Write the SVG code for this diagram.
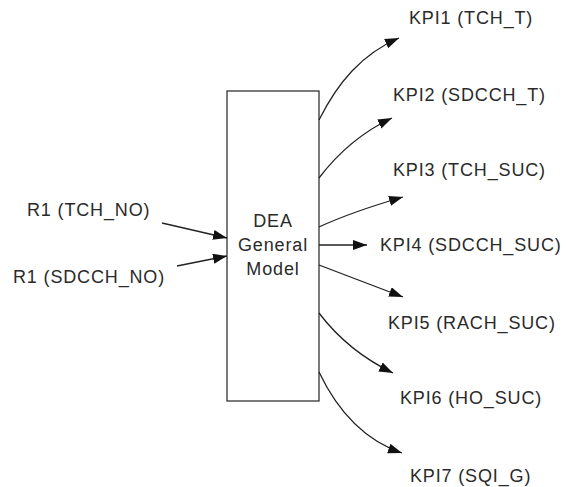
<svg xmlns="http://www.w3.org/2000/svg" width="566" height="487" viewBox="0 0 566 487">
<style>
text{font-family:"Liberation Sans",Arial,sans-serif;font-size:18px;fill:#2a2a2a;letter-spacing:0.85px}
.c{stroke:#222;stroke-width:1.3;fill:none;marker-end:url(#ah)}
.box{fill:#fff;stroke:#333;stroke-width:1.3}
</style>
<defs>
<marker id="ah" markerUnits="userSpaceOnUse" markerWidth="16" markerHeight="11" refX="14" refY="5" orient="auto">
<path d="M0,0 L14,5 L0,10 z" fill="#111"/>
</marker>
</defs>
<rect width="566" height="487" fill="#fff"/>
<g id="model">
<rect class="box" x="227" y="91" width="92" height="310"/>
<text x="273" y="227" text-anchor="middle">DEA</text>
<text x="273" y="251" text-anchor="middle">General</text>
<text x="273" y="275" text-anchor="middle">Model</text>
</g>
<g id="in1"><text x="27" y="216">R1 (TCH_NO)</text></g>
<g id="in2"><text x="13" y="283">R1 (SDCCH_NO)</text></g>
<g id="kpi1"><text x="409" y="24">KPI1 (TCH_T)</text></g>
<g id="kpi2"><text x="393" y="101">KPI2 (SDCCH_T)</text></g>
<g id="kpi3"><text x="393" y="176">KPI3 (TCH_SUC)</text></g>
<g id="kpi4"><text x="380" y="251">KPI4 (SDCCH_SUC)</text></g>
<g id="kpi5"><text x="388" y="329">KPI5 (RACH_SUC)</text></g>
<g id="kpi6"><text x="400" y="404">KPI6 (HO_SUC)</text></g>
<g id="kpi7"><text x="410" y="482">KPI7 (SQI_G)</text></g>
<g id="connectors">
<path class="c" d="M162,223 L227,238"/>
<path class="c" d="M177,266 L227,256"/>
<path class="c" d="M319,120 C338,82 362,54 399,38"/>
<path class="c" d="M319,178 C338,153 360,133 392,118"/>
<path class="c" d="M319,227 C345,215 372,206 403,197"/>
<path class="c" d="M319,245 L367,245"/>
<path class="c" d="M319,265 C345,275 372,285 403,297"/>
<path class="c" d="M319,313 C338,338 362,358 393,373"/>
<path class="c" d="M319,372 C338,412 364,440 402,453"/>
</g>
</svg>
